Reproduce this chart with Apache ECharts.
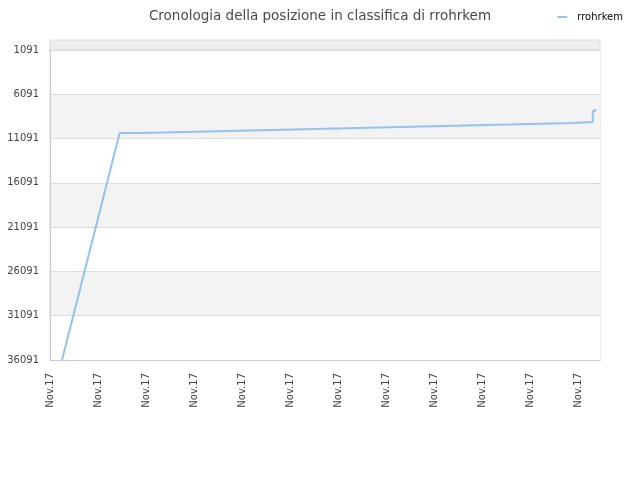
<!DOCTYPE html>
<html>
<head>
<meta charset="utf-8">
<script src="https://cdn.jsdelivr.net/npm/echarts@6/dist/echarts.min.js"></script>
<style>html,body{margin:0;padding:0;background:#fff}#c{width:640px;height:480px}</style>
</head>
<body>
<div id="c"></div>
<script>
// x positions are sample indices on a 0..229 scale
var tickLabels = ['Nov.17','Nov.17','Nov.17','Nov.17','Nov.17','Nov.17','Nov.17','Nov.17','Nov.17','Nov.17','Nov.17','Nov.17'];
var changeIndex = [5, 29, 38, 56, 74, 92, 110, 128, 146, 164, 182, 200, 218, 226, 227];
var rankValues  = [36091, 10462, 10349, 10236, 10123, 10010, 9897, 9785, 9672, 9559, 9446, 9333, 9220, 7978, 7752];
var yTicks = [1091, 6091, 11091, 16091, 21091, 26091, 31091, 36091];

var lineData = [];
for (var i = 0; i < changeIndex.length; i++) {
  if (i >= 2) lineData.push([changeIndex[i], rankValues[i - 1]]);
  lineData.push([changeIndex[i], rankValues[i]]);
}

var chart = echarts.init(document.getElementById('c'), null, {renderer: 'canvas'});
chart.setOption({
  animation: false,
  backgroundColor: '#ffffff',
  title: {
    text: 'Cronologia della posizione in classifica di rrohrkem',
    left: 'center', top: 4,
    textStyle: {fontFamily: 'DejaVu Sans', fontSize: 13.5, fontWeight: 'normal', color: '#4a4a4a'}
  },
  legend: {
    right: 12, top: 7,
    icon: 'rect', itemWidth: 10, itemHeight: 2, itemGap: 10,
    textStyle: {fontFamily: 'DejaVu Sans', fontSize: 10, color: '#000', padding: [0, 0, 0, 5]},
    data: ['rrohrkem']
  },
  graphic: [{
    type: 'rect', z: 0,
    shape: {x: 50, y: 40, width: 550, height: 10},
    style: {fill: '#eeeeee', stroke: '#dddddd', lineWidth: 1}
  }],
  grid: {left: 50, right: 40, top: 50, bottom: 120, show: true, borderColor: '#dddddd', borderWidth: 1},
  xAxis: {
    type: 'value', min: 0, max: 229, interval: 20,
    axisLine: {show: true, lineStyle: {color: '#cccccc'}},
    axisTick: {show: false},
    splitLine: {show: false},
    axisLabel: {
      rotate: 90, fontFamily: 'DejaVu Sans', fontSize: 10, color: '#444', margin: 13,
      showMaxLabel: false,
      formatter: function (v) { return v % 20 === 0 ? tickLabels[v / 20] : ''; }
    }
  },
  yAxis: {
    type: 'value', inverse: true, min: yTicks[0], max: yTicks[yTicks.length - 1], interval: 5000,
    axisLine: {show: true, lineStyle: {color: '#cccccc'}},
    axisTick: {show: false},
    splitLine: {show: true, lineStyle: {color: '#dddddd'}},
    splitArea: {show: true, areaStyle: {color: ['#ffffff', '#f3f3f3']}},
    axisLabel: {fontFamily: 'DejaVu Sans', fontSize: 10, color: '#444', margin: 11,
      formatter: function (v) { return String(v); }}
  },
  series: [{
    name: 'rrohrkem', type: 'line', data: lineData,
    showSymbol: false, symbol: 'none', clip: true,
    lineStyle: {color: '#94c2f2', width: 2},
    itemStyle: {color: '#94c2f2'}
  }]
});
</script>
</body>
</html>
